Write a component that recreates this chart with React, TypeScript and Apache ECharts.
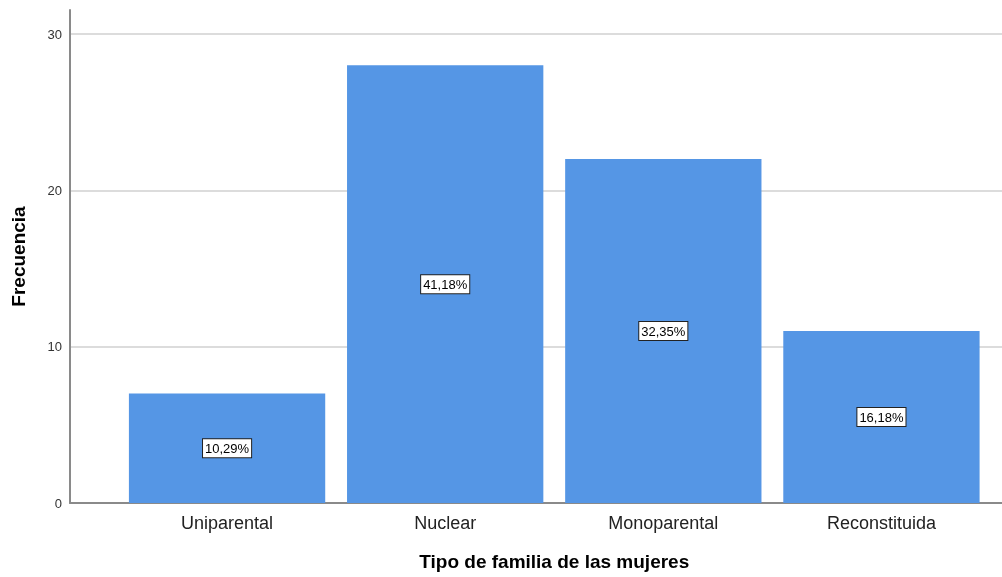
import React, { useEffect, useRef } from 'react';
import * as echarts from 'echarts';

const categories = ['Uniparental', 'Nuclear', 'Monoparental', 'Reconstituida'];
const frequencies = [7, 28, 22, 11];
const yMin = 0;
const yMax = 30;
const yInterval = 10;
const xTitle = 'Tipo de familia de las mujeres';
const yTitle = 'Frecuencia';

const FONT = "'Liberation Sans', Arial, Helvetica, sans-serif";

export default function App() {
  const ref = useRef<HTMLDivElement>(null);
  useEffect(() => {
    const chart = echarts.init(ref.current!, null, { renderer: 'svg' });
    const total = frequencies.reduce((a, b) => a + b, 0);
    const pct = (v: number) => (v / total * 100).toFixed(2).replace('.', ',') + '%';
    chart.setOption({
      animation: false,
      textStyle: { fontFamily: FONT },
      grid: [
        { left: 70, right: 0, top: 34, bottom: 74 },
        { left: 70, right: 0, top: 10, bottom: 74 },
        { left: 118, right: 11.5, top: 34, bottom: 74 },
      ],
      xAxis: [
        {
          gridIndex: 0, type: 'value', min: 0, max: 1,
          axisLine: { show: true, lineStyle: { color: '#8a8a8a', width: 2 } },
          axisLabel: { show: false }, axisTick: { show: false }, splitLine: { show: false },
        },
        { gridIndex: 1, type: 'value', min: 0, max: 1, show: false },
        {
          gridIndex: 2, type: 'category', data: categories,
          axisLine: { show: false }, axisTick: { show: false },
          axisLabel: { fontFamily: FONT, fontSize: 18, color: '#222', margin: 11 },
          name: xTitle, nameLocation: 'middle', nameGap: 49,
          nameTextStyle: { fontFamily: FONT, fontSize: 19, fontWeight: 'bold', color: '#000' },
        },
      ],
      yAxis: [
        {
          gridIndex: 0, type: 'value', min: yMin, max: yMax, interval: yInterval,
          axisLine: { show: false }, axisTick: { show: false },
          axisLabel: { fontFamily: FONT, fontSize: 13, color: '#333', margin: 8 },
          splitLine: { show: true, lineStyle: { color: '#dcdcdc', width: 2 } },
        },
        {
          gridIndex: 1, type: 'value', min: 0, max: 1,
          axisLine: { show: true, lineStyle: { color: '#8a8a8a', width: 2 } },
          axisTick: { show: false }, axisLabel: { show: false }, splitLine: { show: false },
          name: yTitle, nameLocation: 'middle', nameGap: 42, nameRotate: 90,
          nameTextStyle: { fontFamily: FONT, fontSize: 19, fontWeight: 'bold', color: '#000' },
        },
        { gridIndex: 2, type: 'value', min: yMin, max: yMax, show: false },
      ],
      series: [
        {
          type: 'bar', xAxisIndex: 2, yAxisIndex: 2,
          data: frequencies,
          barCategoryGap: '10%',
          itemStyle: { color: '#5596e5' },
          label: {
            show: true, position: 'inside',
            formatter: (p: any) => pct(p.value),
            fontFamily: FONT, fontSize: 13, color: '#000',
            backgroundColor: '#fff', borderColor: '#222', borderWidth: 1,
            padding: [3, 2, 2, 2],
          },
        },
      ],
    });
    return () => chart.dispose();
  }, []);
  return <div ref={ref} style={{ position: 'fixed', left: 0, top: 0, width: 1002, height: 577 }} />;
}
